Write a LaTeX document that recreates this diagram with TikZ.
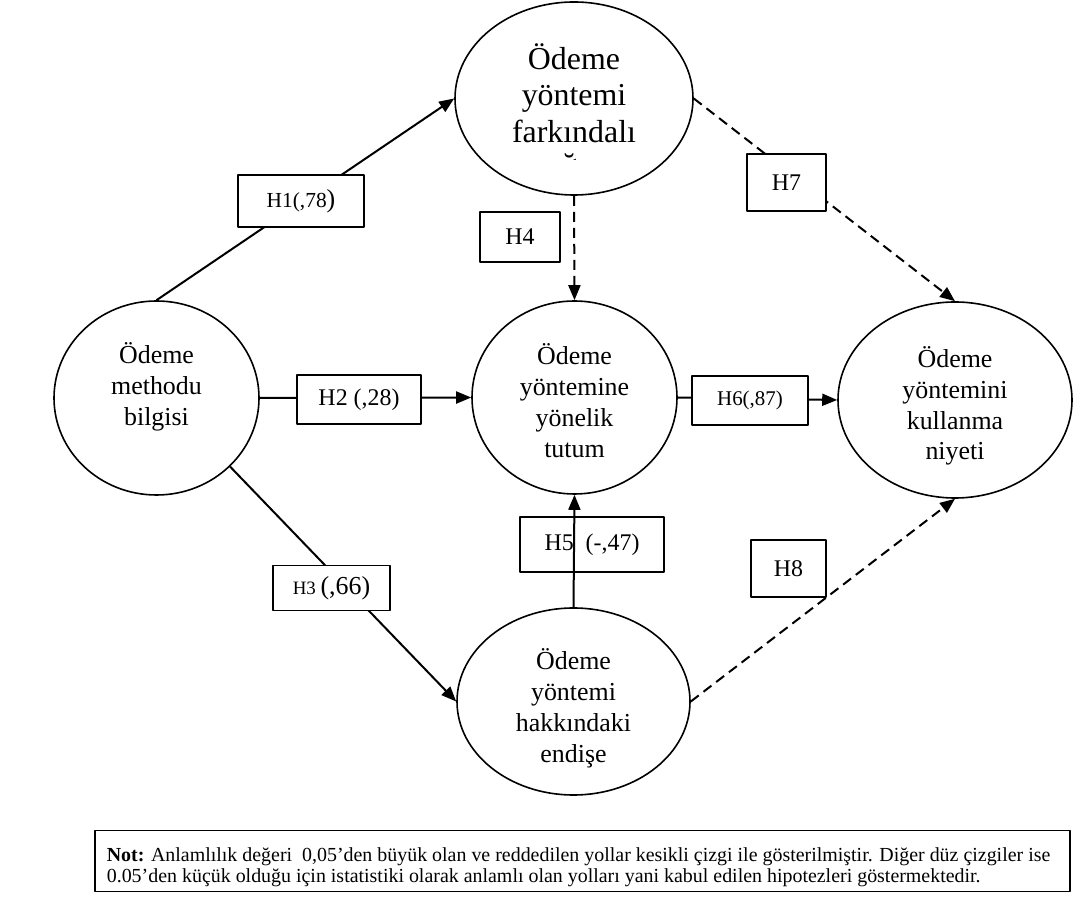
\documentclass[tikz,border=0pt]{standalone}
\usepackage{fontspec}
\setmainfont{Liberation Serif}
\usetikzlibrary{arrows.meta}
\usetikzlibrary{shapes.geometric}
\usetikzlibrary{positioning}
\tikzset{latent/.style={draw,ellipse,line width=1.6bp,inner sep=0pt,align=center,font=\fontsize{26}{31}\selectfont},
  hyp/.style={draw,rectangle,fill=white,line width=1.4bp,inner sep=0pt,font=\fontsize{24}{28}\selectfont},
  sigpath/.style={line width=2bp,-{Triangle[length=15bp,width=12bp]}},
  nspath/.style={sigpath,dash pattern=on 10bp off 6bp}}
\begin{document}
\begin{tikzpicture}[line join=bevel]
\useasboundingbox (0bp,0bp) rectangle (1082bp,897bp);
%%
  \node (p_aware) at (574bp,798.5bp) [latent,minimum width=238bp,minimum height=193bp,font=\fontsize{32}{36.5}\selectfont,text depth=11bp] {Ödeme\\yöntemi\\farkındalı};
  \node (p_know) at (156.5bp,499bp) [latent,minimum width=205bp,minimum height=194bp,text depth=28bp] {Ödeme\\methodu\\bilgisi};
  \node (p_att) at (574.5bp,499.5bp) [latent,minimum width=205bp,minimum height=193bp,text height=120bp,text depth=0bp] {Ödeme\\yöntemine\\yönelik\\tutum};
  \node (p_int) at (955bp,497bp) [latent,minimum width=234bp,minimum height=196bp,text height=120bp,text depth=0bp] {Ödeme\\yöntemini\\kullanma\\niyeti};
  \node (p_con) at (573.5bp,195.5bp) [latent,minimum width=233bp,minimum height=187bp,text height=122bp,text depth=0bp] {Ödeme\\yöntemi\\hakkındaki\\endişe};
\begin{scope}
  \clip (455bp,737.5bp) rectangle (693bp,758bp);
  \node (p_aware_cut) at (574bp,721bp) [anchor=base,inner sep=0pt,font=\fontsize{32}{36.5}\selectfont] {ğı};
\end{scope}
%
  \draw [sigpath] (p_know.north) -- (p_aware.west);
  \draw [sigpath] (p_know.east) -- (p_att.west);
  \draw [sigpath] (p_know.-43) -- (p_con.west);
  \draw [nspath] (p_aware.south) -- (p_att.north);
  \draw [sigpath] (p_att.east) -- (p_int.west);
  \draw [nspath] (p_aware.east) -- (p_int.north);
  \draw [nspath] (p_con.east) -- (p_int.south);
%
  \node (h1) at (301bp,696bp) [hyp,minimum width=126bp,minimum height=52bp] {{\fontsize{21.5}{24}\selectfont H1(,78}{\fontsize{26}{28}\selectfont )}};
  \node (h2) at (359bp,497.5bp) [hyp,minimum width=124bp,minimum height=49bp] {H2 (,28)};
  \node (h3) at (331.5bp,309bp) [hyp,minimum width=117bp,minimum height=45bp] {{\fontsize{19}{22}\selectfont H3 }{\fontsize{26}{28}\selectfont (,66)}};
  \node (h4) at (520bp,660bp) [hyp,minimum width=80bp,minimum height=50bp] {H4};
  \node (h5) at (592bp,352.5bp) [hyp,minimum width=144bp,minimum height=55bp] {H5\ \ (-,47)};
  \node (h6) at (750bp,496.5bp) [hyp,minimum width=116bp,minimum height=49bp,font=\fontsize{21}{25}\selectfont] {H6(,87)};
  \node (h7) at (786.5bp,714.5bp) [hyp,minimum width=79bp,minimum height=57bp] {H7};
  \node (h8) at (788.5bp,328.5bp) [hyp,minimum width=75bp,minimum height=57bp] {H8};
  \draw [sigpath] (p_con.north) -- (p_att.south);
%
  \node (note) at (582.5bp,36bp) [draw,line width=1.4bp,minimum width=975bp,minimum height=61bp,inner sep=0pt] {};
  \node (note_text) at (note.west) [anchor=west,xshift=9bp,yshift=-6bp,align=left,font=\fontsize{20}{21}\selectfont] {\textbf{Not:} Anlamlılık değeri\ \ 0,05’den büyük olan ve reddedilen yollar kesikli çizgi ile gösterilmiştir. Diğer düz çizgiler ise\\0.05’den küçük olduğu için istatistiki olarak anlamlı olan yolları yani kabul edilen hipotezleri göstermektedir.};
%
\end{tikzpicture}
\end{document}
